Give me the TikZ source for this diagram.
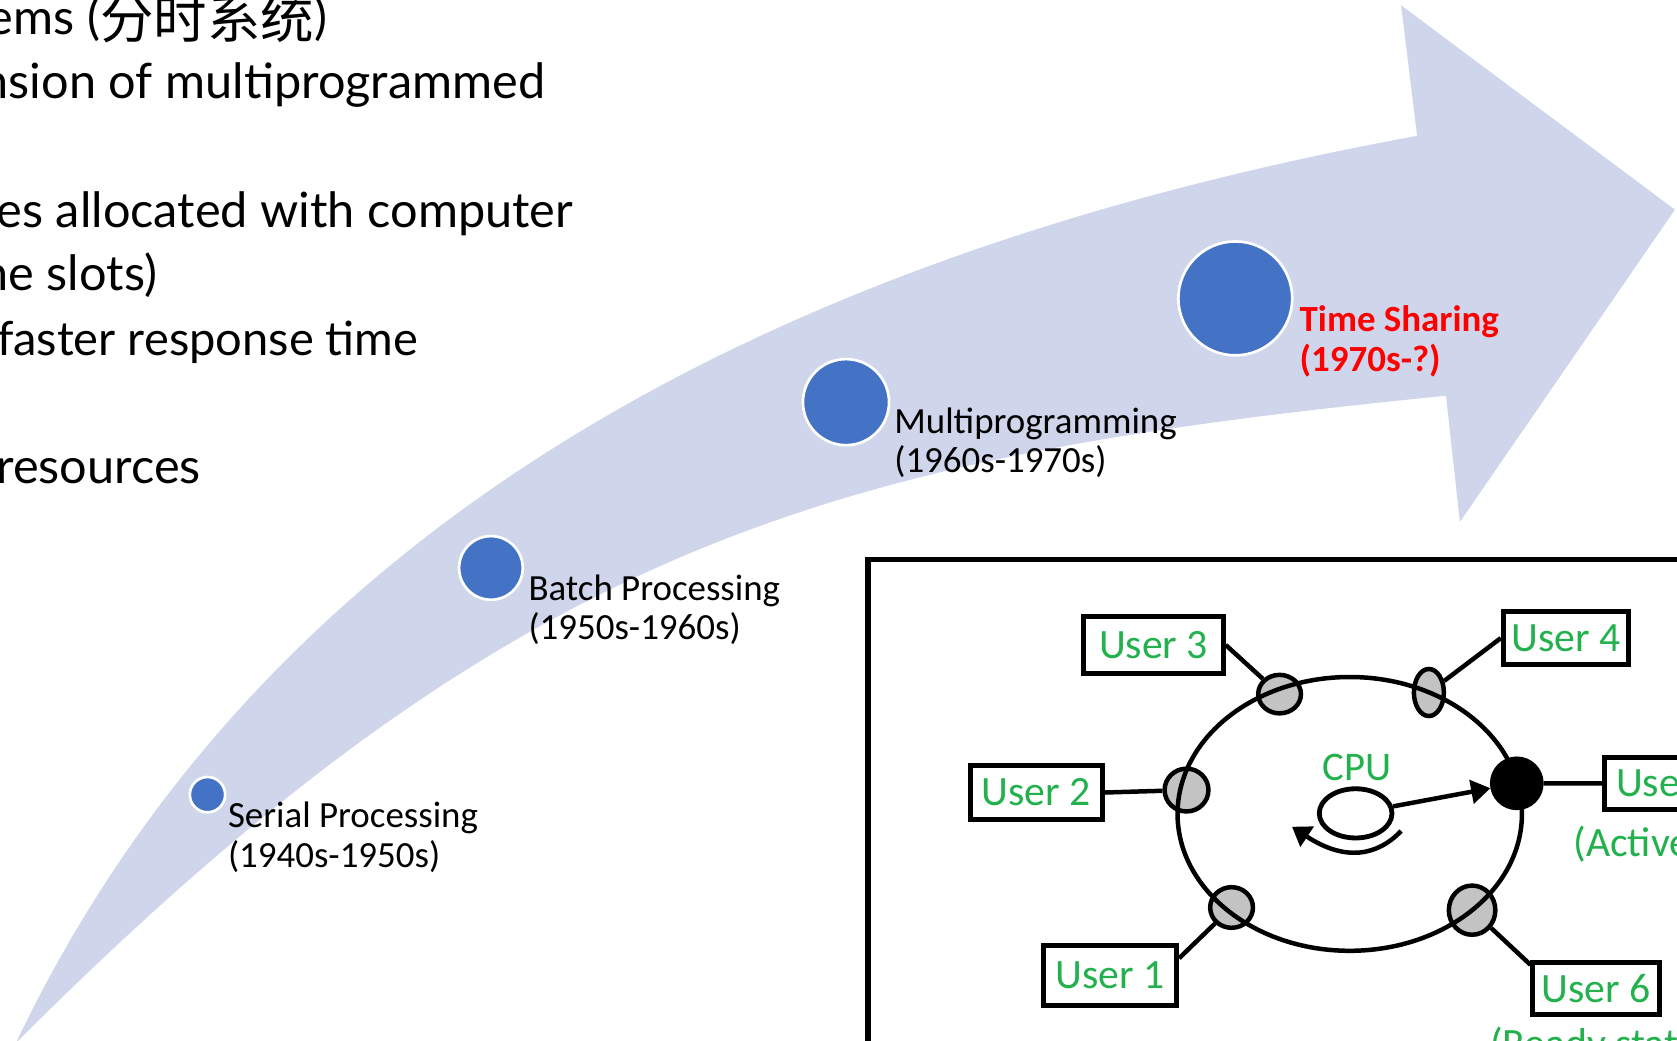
\documentclass[tikz,border=0pt]{standalone}
\usepackage{fontspec}
\setmainfont{Carlito}
\newfontfamily\gillfont{Lato}
\newfontfamily\cjkfont{Noto Sans CJK SC}
\usetikzlibrary{shapes.geometric,arrows.meta}
\definecolor{bandfill}{RGB}{207,213,234}
\definecolor{dotblue}{RGB}{68,114,196}
\definecolor{ugreen}{RGB}{34,177,76}
\definecolor{portgray}{RGB}{195,195,195}
\definecolor{tsred}{RGB}{255,0,0}
\begin{document}
\begin{tikzpicture}[x=1pt,y=-1pt,
  bullet/.style={font=\gillfont\fontsize{45.5}{54}\selectfont, anchor=base east, inner sep=0pt},
  era/.style={circle, fill=dotblue, draw=white, line width=2.5pt, inner sep=0pt},
  eralabel/.style={anchor=base west, inner sep=0pt, font=\fontsize{34.5}{37}\selectfont},
  userbox/.style={draw, line width=4.5pt, fill=white, text=ugreen, inner sep=0pt,
                  font=\fontsize{39}{44}\selectfont},
  port/.style={ellipse, draw, line width=4.2pt, fill=portgray, inner sep=0pt},
  wire/.style={line width=4.2pt},
  note/.style={anchor=base west, inner sep=0pt, text=ugreen, font=\fontsize{39}{44}\selectfont},
  head/.style={-{Triangle[length=18pt,width=22pt]}}
]
\useasboundingbox (0,0) rectangle (1568,973);
\clip (0,0) rectangle (1568,973);
\fill[white] (0,0) rectangle (1568,973);

% curved timeline arrow
\fill[bandfill] (15,975) .. controls (245,492) and (720,238) .. (1325,127)
  -- (1310,5) -- (1566,196) -- (1365,488) -- (1352,370)
  .. controls (780,427) and (487,503) .. (15,975) -- cycle;

% eras along the arrow
\node[era, minimum size=33pt]   (serial) at (194,743) {};
\node[era, minimum size=59.5pt] (batch)  at (459,531) {};
\node[era, minimum size=80.5pt] (multi)  at (791,376) {};
\node[era, minimum size=106.5pt] (tshare) at (1155,279) {};

\node[eralabel] (lserial) at (213,774)
  {\begin{tabular}[t]{@{}l@{}}Serial Processing\\(1940s-1950s)\end{tabular}};
\node[eralabel] (lbatch) at (494,561)
  {\begin{tabular}[t]{@{}l@{}}Batch Processing\\(1950s-1960s)\end{tabular}};
\node[eralabel] (lmulti) at (836,405)
  {\begin{tabular}[t]{@{}l@{}}Multiprogramming\\(1960s-1970s)\end{tabular}};
\node[eralabel, text=tsred, font=\bfseries\fontsize{34.5}{37}\selectfont] (ltshare) at (1215,310)
  {\begin{tabular}[t]{@{}l@{}}Time Sharing\\(1970s-?)\end{tabular}};

% bullet text on the left
\node[bullet] (l1) at (306,32) {ems (\raisebox{-4pt}{\cjkfont\fontsize{50}{54}\selectfont 分时系统})};
\node[bullet] (l2) at (510,92) {nsion of multiprogrammed};
\node[bullet] (l3) at (536,213) {es allocated with computer};
\node[bullet] (l4) at (147,272) {ne slots)};
\node[bullet, anchor=base west, font=\gillfont\fontsize{44}{54}\selectfont] (l5) at (-3,332) {faster response time};
\node[bullet] (l6) at (188,452) {resources};

% time-sharing sketch
\draw[line width=5.3pt, fill=white] (811.6,523.2) rectangle (1640,1020);

\node[userbox, minimum width=130.5pt, minimum height=53.5pt] (u3) at (1078.5,603) {User 3};
\node[userbox, minimum width=117pt,   minimum height=49.5pt] (u4) at (1464,596.6) {User 4};
\node[userbox, minimum width=123.5pt, minimum height=50.5pt] (u2) at (969,741) {User 2};
\node[userbox, minimum width=124pt,   minimum height=48.5pt] (u5) at (1562,732.5) {User 5};
\node[userbox, minimum width=124.5pt, minimum height=56.5pt] (u1) at (1038,912) {User 1};
\node[userbox, minimum width=118.5pt, minimum height=48.5pt] (u6) at (1492.5,924.5) {User 6};

\node[port, minimum width=40pt, minimum height=36pt] (p3) at (1196.4,649) {};
\node[port, minimum width=28pt, minimum height=44pt] (p4) at (1336,647.5) {};
\node[port, minimum width=41pt, minimum height=40pt] (p2) at (1109.4,738.7) {};
\node[port, minimum width=40pt, minimum height=38pt] (p1) at (1151.5,848.5) {};
\node[port, minimum width=43.5pt, minimum height=46pt] (p6) at (1376.4,851) {};
\node[port, fill=black, minimum width=46pt, minimum height=46pt] (p5) at (1418.2,732.4) {};

\draw[wire] (u3.east) -- (p3);
\draw[wire] (u4.west) -- (p4);
\draw[wire] (u2.east) -- (p2);
\draw[wire] (u1.14) -- (p1);
\draw[wire] (p6) -- (u6.160);
\draw[wire] (p5) -- (u5.west);

\node[ellipse, draw, line width=4.2pt, inner sep=0pt, minimum width=322pt, minimum height=256pt] (ring) at (1262,761) {};

\node[ellipse, draw, line width=4.5pt, inner sep=0pt, minimum width=68pt, minimum height=46pt] (cpu) at (1267.5,760.5) {};
\node[inner sep=0pt, text=ugreen, font=\fontsize{38}{44}\selectfont] (cpulbl) at (1269,717.5) {CPU};

\draw[wire, head] (cpu) -- (p5);
\coordinate (turnA) at (1310,777);
\coordinate (turnB) at (1208,773);
\draw[wire, -{Triangle[length=17pt,width=22pt]}] (turnA) .. controls (1288,800) and (1258,806) .. (turnB);

\node[note] (active) at (1471,801) {(Active state)};
\node[note] (ready) at (1393,989) {(Ready state)};
\end{tikzpicture}
\end{document}
